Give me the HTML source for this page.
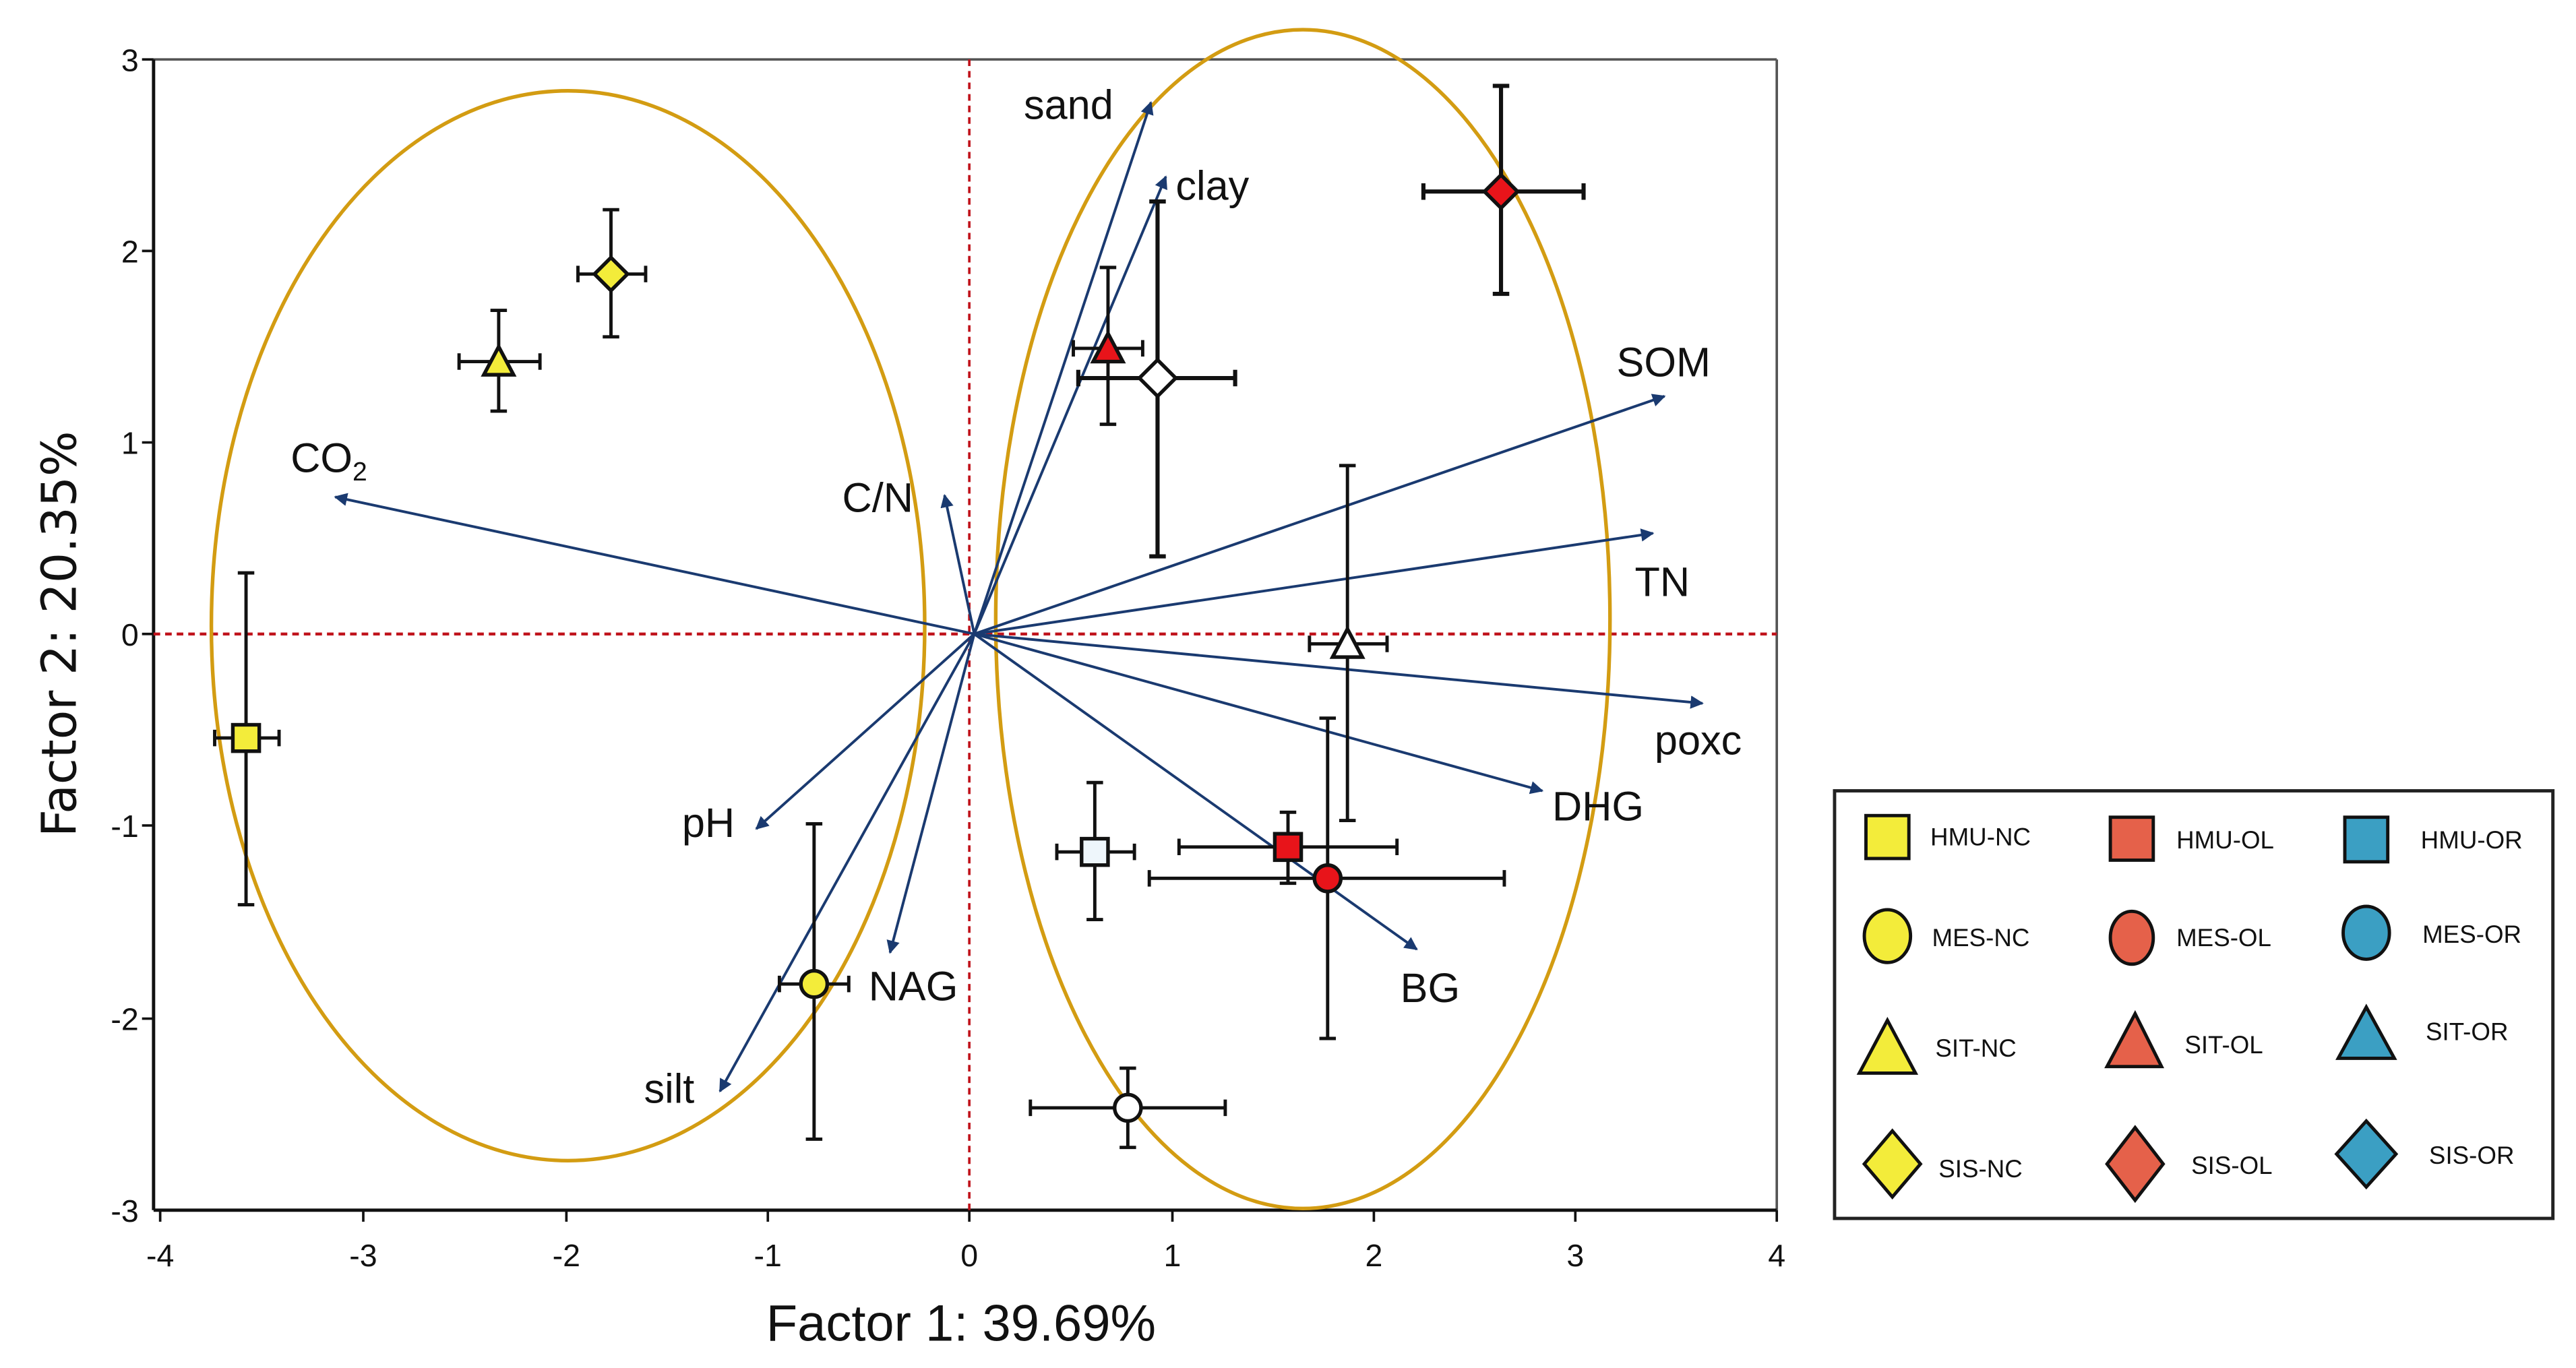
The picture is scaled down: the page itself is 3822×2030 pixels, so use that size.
<!DOCTYPE html>
<html><head><meta charset="utf-8"><style>
html,body{margin:0;padding:0;background:#fff;}
svg{display:block;}
text{font-family:"Liberation Sans",sans-serif;fill:#111;}
</style></head><body>
<svg width="3822" height="2030" viewBox="0 0 1560 828.6" preserveAspectRatio="none" xmlns="http://www.w3.org/2000/svg">
<defs>
<marker id="ar" viewBox="0 0 10 10" refX="9" refY="5" markerWidth="5" markerHeight="5" orient="auto"><path d="M0,0 L10,5 L0,10 z" fill="#1a3a70"/></marker>
</defs>
<rect x="0" y="0" width="1560" height="829" fill="#fff"/>
<!-- frame -->
<line x1="93" y1="36" x2="1076" y2="36" stroke="#555" stroke-width="1.5"/>
<line x1="1076" y1="36" x2="1076" y2="733" stroke="#555" stroke-width="1.5"/>
<line x1="93" y1="36" x2="93" y2="733" stroke="#111" stroke-width="2"/>
<line x1="93" y1="733" x2="1076" y2="733" stroke="#111" stroke-width="2"/>
<g stroke="#111" stroke-width="1.5">
<line x1="97" y1="733" x2="97" y2="740"/><line x1="220" y1="733" x2="220" y2="740"/><line x1="343" y1="733" x2="343" y2="740"/><line x1="465" y1="733" x2="465" y2="740"/><line x1="587" y1="733" x2="587" y2="740"/><line x1="710" y1="733" x2="710" y2="740"/><line x1="832" y1="733" x2="832" y2="740"/><line x1="954" y1="733" x2="954" y2="740"/><line x1="1076" y1="733" x2="1076" y2="740"/>
<line x1="86" y1="36" x2="93" y2="36"/><line x1="86" y1="152" x2="93" y2="152"/><line x1="86" y1="268" x2="93" y2="268"/><line x1="86" y1="384" x2="93" y2="384"/><line x1="86" y1="500" x2="93" y2="500"/><line x1="86" y1="617" x2="93" y2="617"/><line x1="86" y1="733" x2="86" y2="733"/>
</g>
<!-- tick labels -->
<g font-size="19" text-anchor="middle">
<text x="97" y="767">-4</text><text x="220" y="767">-3</text><text x="343" y="767">-2</text><text x="465" y="767">-1</text><text x="587" y="767">0</text><text x="710" y="767">1</text><text x="832" y="767">2</text><text x="954" y="767">3</text><text x="1076" y="767">4</text>
</g>
<g font-size="19" text-anchor="end">
<text x="84" y="43">3</text><text x="84" y="159">2</text><text x="84" y="275">1</text><text x="84" y="391">0</text><text x="84" y="507">-1</text><text x="84" y="624">-2</text><text x="84" y="740">-3</text>
</g>
<text x="582" y="812" font-size="31" text-anchor="middle">Factor 1: 39.69%</text>
<text transform="translate(46,384) rotate(-90)" font-size="29" text-anchor="middle" style="font-family:'DejaVu Sans',sans-serif">Factor 2: 20.35%</text>
<!-- dashed axes -->
<line x1="587" y1="36" x2="587" y2="733" stroke="#c0141c" stroke-width="1.5" stroke-dasharray="4,3"/>
<line x1="93" y1="384" x2="1076" y2="384" stroke="#c0141c" stroke-width="1.8" stroke-dasharray="4,3"/>
<!-- ellipses -->
<ellipse cx="344" cy="379" rx="216" ry="324" fill="none" stroke="#d39c12" stroke-width="2.2"/>
<ellipse cx="789" cy="375" rx="186" ry="357" fill="none" stroke="#d39c12" stroke-width="2.2"/>
<!-- vectors -->
<g stroke="#1a3a70" stroke-width="1.6" marker-end="url(#ar)">
<line x1="590" y1="384" x2="697" y2="62"/>
<line x1="590" y1="384" x2="706" y2="107"/>
<line x1="590" y1="384" x2="1008" y2="240"/>
<line x1="590" y1="384" x2="1001" y2="323"/>
<line x1="590" y1="384" x2="1031" y2="426"/>
<line x1="590" y1="384" x2="934" y2="479"/>
<line x1="590" y1="384" x2="858" y2="575"/>
<line x1="590" y1="384" x2="539" y2="577"/>
<line x1="590" y1="384" x2="436" y2="661"/>
<line x1="590" y1="384" x2="458" y2="502"/>
<line x1="590" y1="384" x2="572" y2="300"/>
<line x1="590" y1="384" x2="203" y2="301"/>
</g>
<g font-size="25">
<text x="620" y="72">sand</text>
<text x="712" y="121">clay</text>
<text x="979" y="228">SOM</text>
<text x="990" y="361">TN</text>
<text x="1002" y="457">poxc</text>
<text x="940" y="497">DHG</text>
<text x="848" y="607">BG</text>
<text x="526" y="606">NAG</text>
<text x="390" y="668">silt</text>
<text x="413" y="507">pH</text>
<text x="510" y="310">C/N</text>
<text x="176" y="286">CO<tspan font-size="16" dy="5">2</tspan></text>
</g>
<!-- error bars -->
<g stroke="#111" stroke-width="2" fill="none">
<path d="M130,447H169M149,347V548M130,442V452M169,442V452M144,347H154M144,548H154"/>
<path d="M278,219H327M302,188V249M278,214V224M327,214V224M297,188H307M297,249H307"/>
<path d="M350,166H391M370,127V204M350,161V171M391,161V171M365,127H375M365,204H375"/>
<path d="M472,596H514M493,499V690M472,591V601M514,591V601M488,499H498M488,690H498"/>
<path d="M650,211H692M671,162V257M650,206V216M692,206V216M666,162H676M666,257H676"/>
<path d="M653,229H748M701,122V337M653,224V234M748,224V234M696,122H706M696,337H706" stroke-width="2.5"/>
<path d="M862,116H959M909,52V178M862,111V121M959,111V121M904,52H914M904,178H914" stroke-width="2.5"/>
<path d="M793,390H840M816,282V497M793,385V395M840,385V395M811,282H821M811,497H821"/>
<path d="M640,516H687M663,474V557M640,511V521M687,511V521M658,474H668M658,557H668"/>
<path d="M714,513H846M780,492V535M714,508V518M846,508V518M775,492H785M775,535H785"/>
<path d="M696,532H911M804,435V629M696,527V537M911,527V537M799,435H809M799,629H809"/>
<path d="M624,671H742M683,647V695M624,666V676M742,666V676M678,647H688M678,695H688"/>
</g>
<!-- markers -->
<g stroke="#111" stroke-width="2.2">
<rect x="141" y="439" width="16" height="16" fill="#f3ec3a"/>
<path d="M302,210 L311,227 L293,227 Z" fill="#f3ec3a"/>
<path d="M370,156 L380,166 L370,176 L360,166 Z" fill="#f3ec3a"/>
<circle cx="493" cy="596" r="8" fill="#f3ec3a"/>
<path d="M671,202 L680,219 L662,219 Z" fill="#e8141a"/>
<path d="M701,218 L712,229 L701,240 L690,229 Z" fill="#fff"/>
<path d="M909,106 L919,116 L909,126 L899,116 Z" fill="#e8141a"/>
<path d="M816,381 L825,398 L807,398 Z" fill="#fff"/>
<rect x="655" y="508" width="16" height="16" fill="#eef6fb"/>
<rect x="772" y="505" width="16" height="16" fill="#e8141a"/>
<circle cx="804" cy="532" r="8" fill="#e8141a"/>
<circle cx="683" cy="671" r="8" fill="#fff"/>
</g>
<!-- legend -->
<rect x="1111" y="479" width="435" height="259" fill="#fff" stroke="#222" stroke-width="2"/>
<g stroke="#111" stroke-width="2">
<rect x="1130" y="494" width="26" height="26" fill="#f3ec3a"/>
<rect x="1278" y="495" width="26" height="26" fill="#e5614a"/>
<rect x="1420" y="495" width="26" height="27" fill="#3b9fc3"/>
<ellipse cx="1143" cy="567" rx="14" ry="16" fill="#f3ec3a"/>
<ellipse cx="1291" cy="568" rx="13" ry="16" fill="#e5614a"/>
<ellipse cx="1433" cy="565" rx="14" ry="16" fill="#3b9fc3"/>
<path d="M1143,618 L1160,650 L1126,650 Z" fill="#f3ec3a"/>
<path d="M1293,614 L1309,646 L1276,646 Z" fill="#e5614a"/>
<path d="M1433,610 L1450,641 L1416,641 Z" fill="#3b9fc3"/>
<path d="M1146,685 L1163,705 L1146,725 L1129,705 Z" fill="#f3ec3a"/>
<path d="M1293,683 L1310,705 L1293,727 L1276,705 Z" fill="#e5614a"/>
<path d="M1433,679 L1451,699 L1433,719 L1415,699 Z" fill="#3b9fc3"/>
</g>
<g font-size="15">
<text x="1169" y="512">HMU-NC</text><text x="1318" y="514">HMU-OL</text><text x="1466" y="514">HMU-OR</text>
<text x="1170" y="573">MES-NC</text><text x="1318" y="573">MES-OL</text><text x="1467" y="571">MES-OR</text>
<text x="1172" y="640">SIT-NC</text><text x="1323" y="638">SIT-OL</text><text x="1469" y="630">SIT-OR</text>
<text x="1174" y="713">SIS-NC</text><text x="1327" y="711">SIS-OL</text><text x="1471" y="705">SIS-OR</text>
</g>
</svg>
</body></html>
